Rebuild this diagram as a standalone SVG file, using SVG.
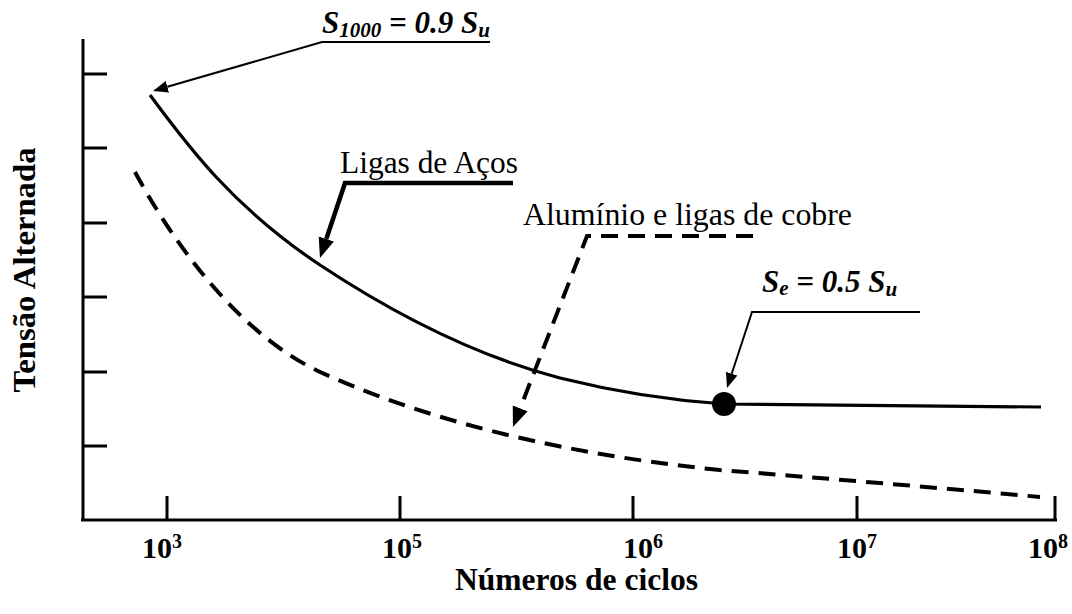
<svg xmlns="http://www.w3.org/2000/svg" width="1072" height="614" viewBox="0 0 1072 614">
<style>
.ln{stroke:#000;fill:none;stroke-linecap:butt;stroke-linejoin:miter}
.axis{stroke-width:3}
.curve{stroke-width:3.2}
.dash{stroke-width:4;stroke-dasharray:17 10}
.thin{stroke-width:2}
.thick{stroke-width:4.5}
text{font-family:"Liberation Serif","Times New Roman",serif;fill:#000}
.b{font-weight:bold}
.bi{font-weight:bold;font-style:italic}
.tick{font-weight:bold;font-size:30px}
.sup{font-size:20px}
</style>
<defs>
<marker id="hs" markerUnits="userSpaceOnUse" viewBox="0 -7 16 14" refX="0" refY="0" markerWidth="16" markerHeight="14" orient="auto"><path d="M0,-6 L15,0 L0,6 z" fill="#000"/></marker>
<marker id="hb" markerUnits="userSpaceOnUse" viewBox="0 -9 21 18" refX="0" refY="0" markerWidth="21" markerHeight="18" orient="auto"><path d="M0,-8 L20,0 L0,8 z" fill="#000"/></marker>
</defs>
<rect width="1072" height="614" fill="#fff"/>
<g id="axes">
<path class="ln axis" d="M83,39 V520 M81,520 H1057"/>
<path class="ln axis" d="M83,74 H107 M83,148 H107 M83,223 H107 M83,297 H107 M83,372 H107 M83,446 H107"/>
<path class="ln axis" d="M167,496 V520 M400,496 V520 M633,496 V520 M857,496 V520 M1055,496 V520"/>
<text class="tick" x="142" y="558">10<tspan class="sup" dy="-10">3</tspan></text>
<text class="tick" x="382" y="558">10<tspan class="sup" dy="-10">5</tspan></text>
<text class="tick" x="623" y="558">10<tspan class="sup" dy="-10">6</tspan></text>
<text class="tick" x="837" y="558">10<tspan class="sup" dy="-10">7</tspan></text>
<text class="tick" x="1028" y="558">10<tspan class="sup" dy="-10">8</tspan></text>
<text class="b" x="455" y="590" font-size="31" textLength="243" lengthAdjust="spacingAndGlyphs">Números de ciclos</text>
<text class="b" font-size="32" text-anchor="middle" textLength="245" lengthAdjust="spacingAndGlyphs" transform="translate(35,270) rotate(-90)">Tensão Alternada</text>
</g>
<g id="curve-steel">
<path class="ln curve" d="M150,95 C185,142 230,205 320,265 C400,318 480,357 560,378 C620,393 680,401 724,404 L1041,407"/>
</g>
<g id="curve-aluminium">
<path class="ln dash" d="M135,172 C170,237 235,332 320,372 C410,413 540,452 720,470 C820,478 930,487 1040,497"/>
</g>
<g id="point-se">
<circle cx="724" cy="404" r="12" fill="#000"/>
</g>
<g id="label-s1000">
<text class="bi" x="322" y="33" font-size="31">S<tspan font-size="21" dy="4">1000</tspan><tspan dy="-4"> = 0.9 S</tspan><tspan font-size="21" dy="4">u</tspan></text>
</g>
<g id="label-steel">
<text x="340" y="173" font-size="31" textLength="178" lengthAdjust="spacingAndGlyphs">Ligas de Aços</text>
</g>
<g id="label-aluminium">
<text x="523" y="225" font-size="31" textLength="329" lengthAdjust="spacingAndGlyphs">Alumínio e ligas de cobre</text>
</g>
<g id="label-se">
<text class="bi" x="762" y="292" font-size="31">S<tspan font-size="21" dy="3">e</tspan><tspan dy="-3"> = 0.5 S</tspan><tspan font-size="21" dy="4">u</tspan></text>
</g>
<g id="connectors">
<path class="ln thin" d="M490,42 H322 L167.4,86.8" marker-end="url(#hs)"/>
<path class="ln thick" d="M513,183 H345 L326.3,239" marker-end="url(#hb)"/>
<path class="ln dash" d="M753,236 H587 L520.2,408.3" marker-end="url(#hb)"/>
<path class="ln thin" d="M920,312 H752 L731.7,373.7" marker-end="url(#hs)"/>
</g>
</svg>
